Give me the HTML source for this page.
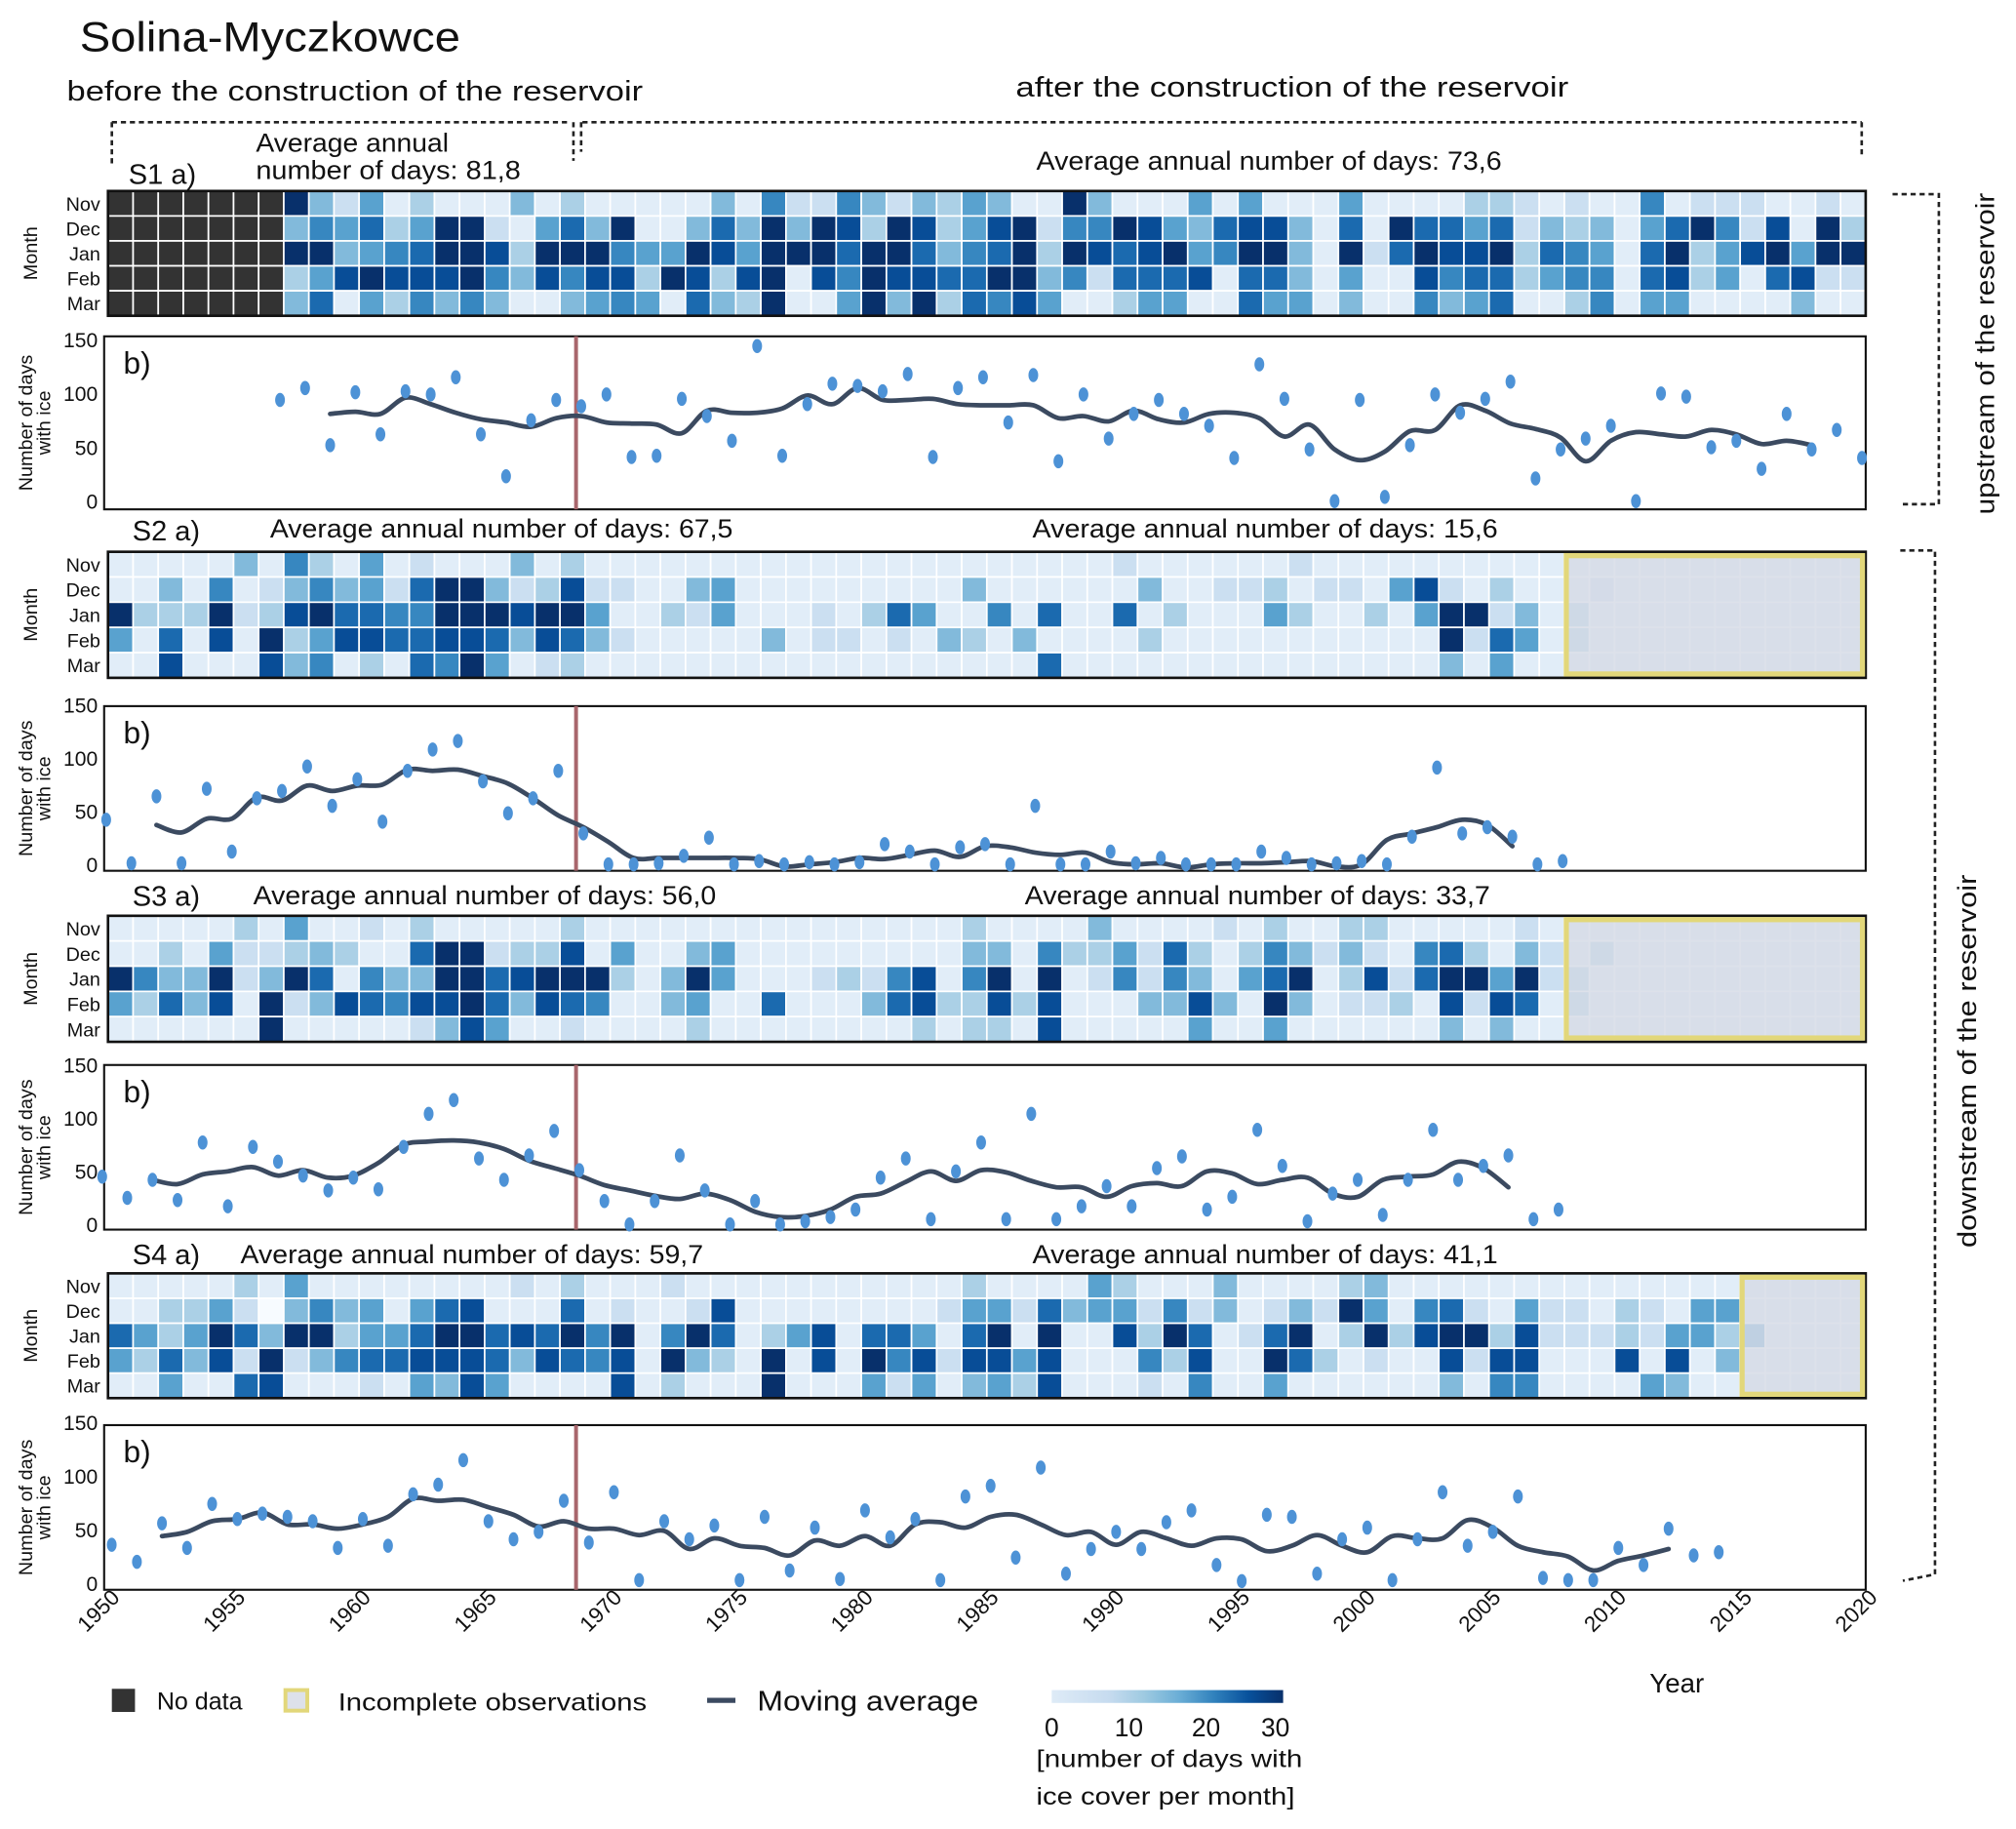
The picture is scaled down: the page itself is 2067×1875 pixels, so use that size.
<!DOCTYPE html>
<html><head><meta charset="utf-8"><title>Solina-Myczkowce ice cover</title>
<style>
html,body{margin:0;padding:0;background:#fff;}
svg{display:block;}
text{font-family:"Liberation Sans",sans-serif;fill:#111;}
</style></head>
<body>
<svg id="chart" xmlns="http://www.w3.org/2000/svg" width="2067" height="1875" viewBox="0 0 1568 1422" preserveAspectRatio="none">
<defs>
<linearGradient id="bluesGrad" x1="0" x2="1" y1="0" y2="0">
<stop offset="0" stop-color="#deebf7"/><stop offset="0.25" stop-color="#c6dbef"/><stop offset="0.4" stop-color="#9ecae1"/><stop offset="0.55" stop-color="#6baed6"/><stop offset="0.7" stop-color="#3182bd"/><stop offset="0.85" stop-color="#08519c"/><stop offset="1" stop-color="#08306b"/>
</linearGradient>
</defs>
<text x="62" y="40" font-size="32" textLength="296" lengthAdjust="spacingAndGlyphs">Solina-Myczkowce</text>
<text x="52" y="78" font-size="22" textLength="448" lengthAdjust="spacingAndGlyphs">before the construction of the reservoir</text>
<text x="790" y="75" font-size="22" textLength="430" lengthAdjust="spacingAndGlyphs">after the construction of the reservoir</text>
<g stroke="#222" stroke-width="2" fill="none" stroke-dasharray="4,3">
<path d="M87 95 H443 M453 95 H1448 M87 95 V128 M1448 95 V122 M446 95 V125 M452 95 V118"/>
</g>
<g stroke="#222" stroke-width="2" fill="none" stroke-dasharray="4,3">
<path d="M1472 151 H1508 V392 H1480"/>
</g>
<text font-size="20" transform="translate(1551,275) rotate(-90)" text-anchor="middle" textLength="250" lengthAdjust="spacingAndGlyphs">upstream of the reservoir</text>
<g stroke="#222" stroke-width="2" fill="none" stroke-dasharray="4,3">
<path d="M1478 428 H1505 V1224 L1480 1229"/>
</g>
<text font-size="20" transform="translate(1537,825) rotate(-90)" text-anchor="middle" textLength="290" lengthAdjust="spacingAndGlyphs">downstream of the reservoir</text>
<g id="panels"></g>
<g id="xaxis"></g>
<text x="1283" y="1316" font-size="21">Year</text>
<g>
<rect x="87" y="1313" width="18" height="18" fill="#333"/>
<text x="122" y="1329" font-size="19">No data</text>
<rect x="222" y="1314" width="17" height="16" fill="#dde1ea" stroke="#e2d77a" stroke-width="3"/>
<text x="263" y="1330" font-size="19" textLength="240" lengthAdjust="spacingAndGlyphs">Incomplete observations</text>
<line x1="550" y1="1322" x2="572" y2="1322" stroke="#3b4a60" stroke-width="4"/>
<text x="589" y="1330" font-size="22" textLength="172" lengthAdjust="spacingAndGlyphs">Moving average</text>
</g>
<g>
<rect x="818" y="1314" width="180" height="10" fill="url(#bluesGrad)"/>
<text x="818" y="1350" font-size="20" text-anchor="middle">0</text>
<text x="878" y="1350" font-size="20" text-anchor="middle">10</text>
<text x="938" y="1350" font-size="20" text-anchor="middle">20</text>
<text x="992" y="1350" font-size="20" text-anchor="middle">30</text>
<text x="806" y="1374" font-size="19" textLength="207" lengthAdjust="spacingAndGlyphs">[number of days with</text>
<text x="806" y="1403" font-size="19" textLength="201" lengthAdjust="spacingAndGlyphs">ice cover per month]</text>
</g>
</svg>
<script>
// ---------- DATA ----------
const monthLabels = ['Nov','Dec','Jan','Feb','Mar'];
const yearTicks = [1950,1955,1960,1965,1970,1975,1980,1985,1990,1995,2000,2005,2010,2015,2020];
const yTicks = [0,50,100,150];
// heatmap ice-cover classes per year column 1950..2019 (x = no data; each class ~3.3 days)
const heatS1 = [
 'xxxxxxx'+'94251311141311111416226424354'+'1194111515111511113321211612221121',
 'xxxxxxx'+'46573599215749114749498398358'+'9266985478841719775724341579628193',
 'xxxxxxx'+'99456799839996559859997997467'+'9398789569941927988937651793589599',
 'xxxxxxx'+'35898889648688398389186988779'+'9462777817741511867735661783517822',
 'xxxxxxx'+'47153646411456517439115949376'+'8511355117551411645711361551111411'
];
const heatS2 = [
 '11111416315121114131'+'111111111111111111'+'11211111121111111111'+'111111111111',
 '11416124645279942382'+'211451111111114111'+'11141122312215821311'+'121111111111',
 '93339238977669998995'+'113251112137511617'+'11713111531131599241'+'311111111111',
 '51718193588778874874'+'211111412212143141'+'11131111111111192751'+'311111111111',
 '11811184613176951231'+'111111111111111117'+'111111111111111'+'41511'+'111111111111'
];
const heatS3 = [
 '11111315112131111131'+'11111111111111'+'3111'+'14111121311331111121'+'111111111111',
 '11315223431179923381'+'511451111111114416'+'33527313642421673142'+'131111111111',
 '96449249716449978999'+'314951112326816919'+'12626415791382799592'+'311111111111',
 '53748192487688974876'+'114511711147833838'+'11144841941223182871'+'311111111111',
 '11111191111124851121'+'111311111111313318'+'11111511511111141411'+'111111111111'
];
const heatS4 = [
 '111113151111111121311121'+'1111111111'+'3111'+'15311141111341'+'1111111111111'+'11111',
 '11335204645157811171'+'211281111111125527'+'455262412429516721522132155'+'11111',
 '75359749935579978796'+'916971358177517919'+'118397127913938993822232553'+'51111',
 '53748292467788874876'+'819431918196828858'+'111638119731211828811181814'+'11111',
 '11511781112154851111'+'813111911152514538'+'111216115111111416611115411'+'11111'
];
// annual number of days with ice (scatter) and moving average
const s1Years = [1957,1958,1959,1960,1961,1962,1963,1964,1965,1966,1967,1968,1969,1970,1971,1972,1973,1974,1975,1976,1977,1978,1979,1980,1981,1982,1983,1984,1985,1986,1987,1988,1989,1990,1991,1992,1993,1994,1995,1996,1997,1998,1999,2000,2001,2002,2003,2004,2005,2006,2007,2008,2009,2010,2011,2012,2013,2014,2015,2016,2017,2018,2019,2020];
const s1Values = [94,105,52,101,62,102,99,115,62,23,75,94,88,99,41,42,95,79,56,144,42,90,109,107,102,118,41,105,115,73,117,37,99,58,81,94,81,70,40,127,95,48,0,94,4,52,99,82,95,111,21,48,58,70,0,100,97,50,56,30,81,48,66,40];
const s1AvgStart = 1959;
const s1Avg = [81,83,81,96,90,82,76,73,69,77,79,73,72,71,63,84,82,82,86,98,90,105,94,94,95,90,89,89,89,77,79,74,84,76,73,81,82,77,60,71,48,38,46,65,66,89,84,72,67,59,37,56,64,62,60,66,62,53,56,52];

const s2Years = [1949,1950,1951,1952,1953,1954,1955,1956,1957,1958,1959,1960,1961,1962,1963,1964,1965,1966,1967,1968,1969,1970,1971,1972,1973,1974,1975,1976,1977,1978,1979,1980,1981,1982,1983,1984,1985,1986,1987,1988,1989,1990,1991,1992,1993,1994,1995,1996,1997,1998,1999,2000,2001,2002,2003,2004,2005,2006,2007];
const s2Values = [42,1,64,1,71,12,62,69,92,55,80,40,88,108,116,78,48,62,88,29,0,0,1,8,25,0,3,0,2,0,2,19,12,0,16,19,0,55,0,0,12,1,6,0,0,0,12,6,0,1,3,0,26,91,29,35,26,0,3];
const s2AvgStart = 1951;
const s2Avg = [37,30,43,43,63,60,74,69,74,75,89,88,89,83,76,62,46,35,21,6,6,6,6,6,5,-2,0,2,6,5,9,13,7,17,16,11,9,11,2,0,1,-3,0,1,1,2,3,-2,0,23,29,35,42,37,17];

const s3Years = [1949,1950,1951,1952,1953,1954,1955,1956,1957,1958,1959,1960,1961,1962,1963,1964,1965,1966,1967,1968,1969,1970,1971,1972,1973,1974,1975,1976,1977,1978,1979,1980,1981,1982,1983,1984,1985,1986,1987,1988,1989,1990,1991,1992,1993,1994,1995,1996,1997,1998,1999,2000,2001,2002,2003,2004,2005,2006,2007];
const s3Values = [45,25,42,23,77,17,73,59,46,32,44,33,73,104,117,62,42,65,88,51,22,0,22,65,32,0,22,0,3,7,14,44,62,5,50,77,5,104,5,17,36,17,53,64,14,26,89,55,3,29,42,9,42,89,42,55,65,5,14];
const s3AvgStart = 1951;
const s3Avg = [42,38,47,50,54,46,51,44,46,58,75,78,79,77,71,60,53,46,37,32,27,24,29,23,12,7,8,14,26,29,40,50,41,51,49,41,35,35,26,36,39,36,50,48,38,42,44,29,26,42,45,47,59,53,35];

const s4Years = [1949,1950,1951,1952,1953,1954,1955,1956,1957,1958,1959,1960,1961,1962,1963,1964,1965,1966,1967,1968,1969,1970,1971,1972,1973,1974,1975,1976,1977,1978,1979,1980,1981,1982,1983,1984,1985,1986,1987,1988,1989,1990,1991,1992,1993,1994,1995,1996,1997,1998,1999,2000,2001,2002,2003,2004,2005,2006,2007,2008,2009,2010,2011,2012,2013];
const s4Values = [36,20,56,33,74,60,65,62,58,33,60,35,83,92,115,58,41,48,77,38,85,3,58,41,54,3,62,12,52,4,68,43,60,3,81,91,24,108,9,32,48,32,57,68,17,2,64,62,9,41,52,3,41,85,35,48,81,5,3,3,33,17,51,26,29];
const s4AvgStart = 1951;
const s4Avg = [44,48,58,60,66,55,55,51,55,62,79,77,78,71,64,53,58,51,51,45,49,32,42,35,33,26,40,35,44,35,55,57,52,62,64,55,45,48,36,48,42,35,42,41,30,35,45,35,29,44,42,42,59,52,35,29,25,12,21,26,32];

const avgBefore = ['81,8','67,5','56,0','59,7'];
const avgAfter = ['73,6','15,6','33,7','41,1'];
const incompleteFrom = [null, 2008, 2008, 2015];
const damYear = 1968.64;

// ---------- LAYOUT ----------
const NS = 'http://www.w3.org/2000/svg';
const X0 = 84, CW = 19.53, NCOL = 70, FIRST = 1950;
function xCol(year){ return X0 + (year - FIRST) * CW; }
const panels = [
 {id:'s1', heat:heatS1, hTop:148.5, hBot:245.5, pTop:261.5, pBot:396, y150:264, y0:389.6, off:-0.15,
  years:s1Years, vals:s1Values, aStart:s1AvgStart, avg:s1Avg, lab:[100,143], bLab:[199,806,132]},
 {id:'s2', heat:heatS2, hTop:429, hBot:527, pTop:549, pBot:677, y150:548, y0:672, off:0.93,
  years:s2Years, vals:s2Values, aStart:s2AvgStart, avg:s2Avg, lab:[103,420], bLab:[210,803,418]},
 {id:'s3', heat:heatS3, hTop:712, hBot:810, pTop:828, pBot:956, y150:828, y0:952, off:0.77,
  years:s3Years, vals:s3Values, aStart:s3AvgStart, avg:s3Avg, lab:[103,704], bLab:[197,797,703]},
 {id:'s4', heat:heatS4, hTop:990, hBot:1087, pTop:1108, pBot:1236, y150:1106, y0:1231, off:1.15,
  years:s4Years, vals:s4Values, aStart:s4AvgStart, avg:s4Avg, lab:[103,983], bLab:[187,803,982]}
];
const blues = [[0,'#f7fbff'],[0.125,'#deebf7'],[0.25,'#c6dbef'],[0.375,'#9ecae1'],[0.5,'#6baed6'],[0.625,'#4292c6'],[0.75,'#2171b5'],[0.875,'#08519c'],[1,'#08306b']];
function hex(h){return [1,3,5].map(i=>parseInt(h.substr(i,2),16));}
function colorFor(days){
  const t = Math.max(0, Math.min(1, days/30));
  for(let i=1;i<blues.length;i++){
    if(t<=blues[i][0]){
      const a=blues[i-1], b=blues[i], f=(t-a[0])/(b[0]-a[0]);
      const ca=hex(a[1]), cb=hex(b[1]);
      return 'rgb('+ca.map((v,k)=>Math.round(v+(cb[k]-v)*f)).join(',')+')';
    }
  }
  return blues[blues.length-1][1];
}
function el(tag, attrs, parent){
  const e=document.createElementNS(NS,tag);
  for(const k in attrs) e.setAttribute(k, attrs[k]);
  parent.appendChild(e); return e;
}
function txt(parent, x, y, s, size, extra){
  const t=el('text', Object.assign({x:x,y:y,'font-size':size}, extra||{}), parent);
  t.textContent=s; return t;
}
function smoothPath(pts){
  let d='M'+pts[0][0].toFixed(1)+' '+pts[0][1].toFixed(1);
  for(let i=0;i<pts.length-1;i++){
    const p0=pts[Math.max(0,i-1)], p1=pts[i], p2=pts[i+1], p3=pts[Math.min(pts.length-1,i+2)];
    const c1=[p1[0]+(p2[0]-p0[0])/6, p1[1]+(p2[1]-p0[1])/6];
    const c2=[p2[0]-(p3[0]-p1[0])/6, p2[1]-(p3[1]-p1[1])/6];
    d+=' C'+c1[0].toFixed(1)+' '+c1[1].toFixed(1)+' '+c2[0].toFixed(1)+' '+c2[1].toFixed(1)+' '+p2[0].toFixed(1)+' '+p2[1].toFixed(1);
  }
  return d;
}
const root=document.getElementById('panels');
panels.forEach((p,pi)=>{
  const g=el('g',{},root);
  
  
  const la=txt(g,p.lab[0],p.lab[1],p.id.toUpperCase()+' a)',22);
  
  
  if(pi===0){
    const t1=txt(g,p.bLab[0],118,'Average annual',20,{textLength:150,lengthAdjust:'spacingAndGlyphs'});
    
    
    const t2=txt(g,p.bLab[0],139,'number of days: '+avgBefore[pi],20,{textLength:206,lengthAdjust:'spacingAndGlyphs'});
    
    
  } else {
    const t1=txt(g,p.bLab[0],p.bLab[2],'Average annual number of days: '+avgBefore[pi],20,{textLength:360,lengthAdjust:'spacingAndGlyphs'});
    
    
  }
  const t3=txt(g,p.bLab[1],p.bLab[2],'Average annual number of days: '+avgAfter[pi],20,{textLength:362,lengthAdjust:'spacingAndGlyphs'});
  
  
  const hg=el('g',{},g);
  
  
  const rh=(p.hBot-p.hTop)/5;
  for(let r=0;r<5;r++){
    const row=p.heat[r].padEnd(NCOL,'1');
    for(let c=0;c<NCOL;c++){
      const ch=row[c];
      const fill = ch==='x' ? '#333333' : colorFor(parseInt(ch,10)*10/3);
      const cell=el('rect',{x:xCol(FIRST+c).toFixed(2),y:(p.hTop+r*rh).toFixed(2),width:CW.toFixed(2),height:rh.toFixed(2),fill:fill,stroke:'#fff','stroke-width':1.3},hg);
      
      
    }
    const ml=txt(g,78,p.hTop+r*rh+rh/2+5.5,monthLabels[r],15,{'text-anchor':'end'});
    
    
  }
  const hb=el('rect',{x:X0,y:p.hTop,width:CW*NCOL,height:p.hBot-p.hTop,fill:'none',stroke:'#111','stroke-width':2},g);
  
  
  if(incompleteFrom[pi]){
    const yx=xCol(incompleteFrom[pi]);
    const ov=el('rect',{x:yx+1.5,y:p.hTop+3,width:X0+CW*NCOL-yx-4,height:p.hBot-p.hTop-6,fill:'#d6dae5','fill-opacity':0.82,stroke:'#e2d77a','stroke-width':4},g);
    
    
  }
  const mt=txt(g,0,0,'Month',15,{transform:'translate(29,'+((p.hTop+p.hBot)/2)+') rotate(-90)','text-anchor':'middle'});
  
  
  const yS=v=>p.y0-(v/150)*(p.y0-p.y150);
  const xS=yr=>xCol(yr+p.off);
  const pb=el('rect',{x:81,y:p.pTop,width:X0+CW*NCOL-81,height:p.pBot-p.pTop,fill:'none',stroke:'#111','stroke-width':1.6},g);
  
  
  const bl=txt(g,96,p.pTop+29,'b)',24);
  
  
  yTicks.forEach(v=>{
    const tl=txt(g,76,yS(v)+6,String(v),16,{'text-anchor':'end'});
    
    
  });
  const yt=el('text',{transform:'translate(25,'+((p.pTop+p.pBot)/2)+') rotate(-90)','text-anchor':'middle','font-size':15},g);
  
  
  const ts1=el('tspan',{x:0,dy:0},yt); ts1.textContent='Number of days';
  const ts2=el('tspan',{x:0,dy:14},yt); ts2.textContent='with ice';
  const dam=el('line',{x1:xCol(damYear),x2:xCol(damYear),y1:p.pTop,y2:p.pBot,stroke:'#a8666c','stroke-width':3},g);
  
  
  const pts=p.avg.map((v,i)=>[xS(p.aStart+i), yS(v)]);
  const ln=el('path',{d:smoothPath(pts),fill:'none',stroke:'#3b4a60','stroke-width':3.6,'stroke-linejoin':'round','stroke-linecap':'round'},g);
  
  
  p.years.forEach((yr,i)=>{
    const dot=el('ellipse',{cx:xS(yr).toFixed(1),cy:yS(p.vals[i]).toFixed(1),rx:3.8,ry:5.5,fill:'#4d92d6'},g);
    
    
  });
});
const xa=document.getElementById('xaxis');
yearTicks.forEach(yr=>{
  const x=xCol(yr)+10;
  const t=txt(xa,0,0,String(yr),17,{'text-anchor':'end',transform:'translate('+x.toFixed(1)+',1243) rotate(-45)'});
  
  
});
</script>
</body></html>
